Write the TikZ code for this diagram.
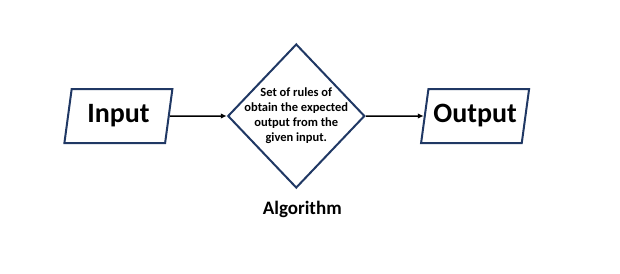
\documentclass[tikz,border=0pt]{standalone}
\usepackage{fontspec}
\setmainfont{Carlito}
\usepackage{xcolor}
\usetikzlibrary{shapes.geometric, arrows.meta, positioning}
\definecolor{shapeblue}{HTML}{203864}

\begin{document}
\begin{tikzpicture}[
    node distance=57pt,
    io/.style={trapezium, trapezium left angle=76, trapezium right angle=104, trapezium stretches body, draw=shapeblue, fill=white, line width=2pt, minimum width=108pt, minimum height=54pt, font=\fontsize{28}{32}\selectfont\bfseries},
    decision/.style={diamond, draw=shapeblue, fill=white, line width=2pt, minimum width=137pt, minimum height=144pt, inner sep=0pt},
    arrow/.style={draw=black, line width=1.5pt, -{Latex[length=6pt, width=5.5pt]}}
]
    \useasboundingbox (-118.4pt,-157pt) rectangle (501.6pt,116pt);
    \node [io] (input) {Input};
    \node [decision, right=of input] (algo) {};
    \node [align=center, font=\fontsize{12.5}{15}\selectfont\bfseries] (algotext) at (algo) {Set of rules of\\obtain the expected\\output from the\\given input.};
    \node [io, right=58pt of algo] (output) {Output};
    \node [below=12pt of algo, xshift=6pt, inner sep=0pt, font=\fontsize{19}{23}\selectfont\bfseries] (algolabel) {Algorithm};

    \draw [arrow] (input) -- (algo);
    \draw [arrow] (algo) -- (output);
\end{tikzpicture}
\end{document}
